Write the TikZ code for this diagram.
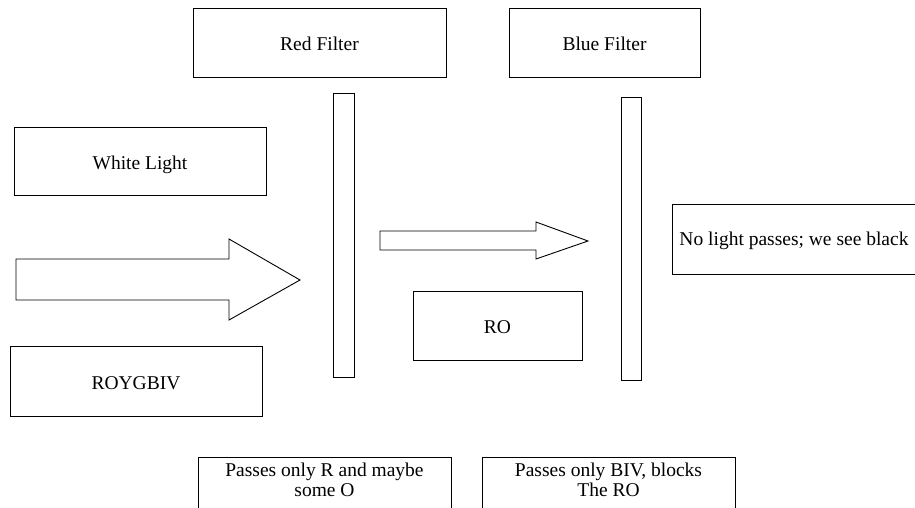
\documentclass[tikz,border=0pt]{standalone}
\usepackage{fontspec}
\setmainfont{Liberation Serif}
\begin{document}
\begin{tikzpicture}[x=1pt,y=-1pt,line width=0.9pt,
  box/.style={draw=black, rectangle, inner sep=0pt, font=\fontsize{19.5}{19.5}\selectfont, text height=17pt, text depth=1pt},
  lbl/.style={inner sep=0pt, font=\fontsize{19.5}{19.5}\selectfont, align=center},
  bar/.style={draw=black, rectangle, inner sep=0pt},
  blockarrow/.style={draw=black, line join=miter}]
\useasboundingbox (0,0) rectangle (915,507);
\clip (0,0) rectangle (915,507);
% title boxes
\node[box, minimum width=253pt, minimum height=69pt] (red) at (319.5,42.5) {Red Filter};
\node[box, minimum width=191pt, minimum height=69pt] (blue) at (604.5,42.5) {Blue Filter};
% filter bars
\node[bar, minimum width=21pt, minimum height=284pt] (redbar) at (343.5,235) {};
\node[bar, minimum width=20pt, minimum height=283pt] (bluebar) at (631,238.5) {};
% left boxes
\node[box, minimum width=252pt, minimum height=68pt] (white) at (140,161) {White Light};
\node[box, minimum width=252pt, minimum height=70pt] (roygbiv) at (136,381) {ROYGBIV};
\node[box, minimum width=169pt, minimum height=69pt] (ro) at (497.5,325.5) {RO};
% block arrows
\draw[blockarrow] (16,259) -- (229,259) -- (229,239) -- (300,280) -- (229,320) -- (229,300) -- (16,300) -- cycle;
\draw[blockarrow] (380,231) -- (536,231) -- (536,222) -- (588,241) -- (536,259) -- (536,250) -- (380,250) -- cycle;
% right box (cut off)
\node[bar, minimum width=258pt, minimum height=70pt] (nolight) at (801,239) {};
\node[lbl, anchor=base west] (nolighttxt) at (679,245) {No light passes; we see black};
% bottom boxes (cut off)
\node[bar, minimum width=253pt, minimum height=70pt] (passr) at (324.5,492) {};
\node[lbl, anchor=north] (passrtxt) at (324.5,463) {Passes only R and maybe\\some O};
\node[bar, minimum width=253pt, minimum height=70pt] (passb) at (608.5,492) {};
\node[lbl, anchor=north] (passbtxt) at (608.5,463) {Passes only BIV, blocks\\The RO};
\end{tikzpicture}
\end{document}
